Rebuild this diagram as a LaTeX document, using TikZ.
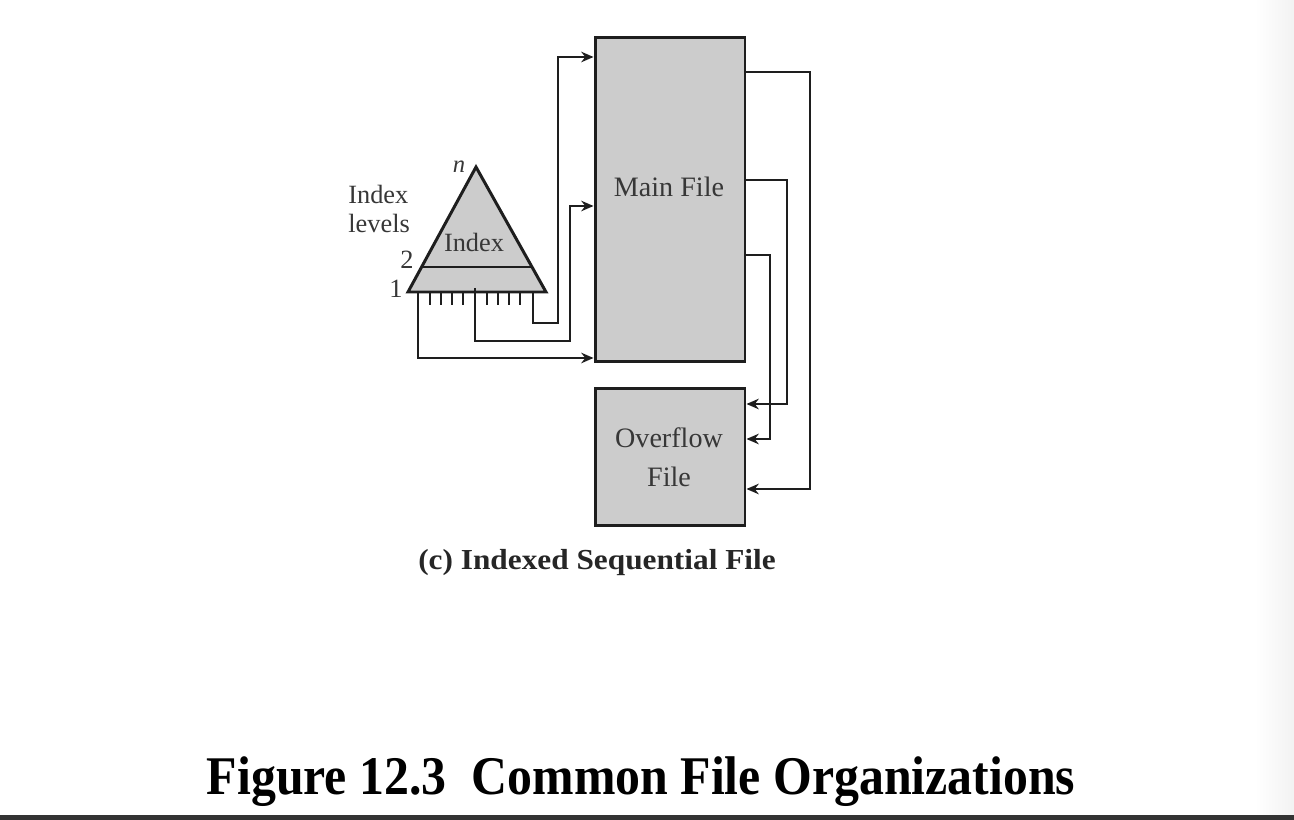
\documentclass[tikz,border=0pt]{standalone}
\usepackage{fontspec}
\setmainfont{Liberation Serif}
\usetikzlibrary{arrows.meta}
\definecolor{boxfill}{RGB}{204,204,204}
\definecolor{ink}{RGB}{30,30,30}
\definecolor{txt}{RGB}{55,55,55}
\begin{document}
\begin{tikzpicture}[x=0.02cm,y=-0.02cm,
  line/.style={draw=ink,line width=1.7pt},
  conn/.style={draw=ink,line width=1.6pt,-{Stealth[length=7pt,width=6pt]}},
  filebox/.style={draw=ink,line width=1.7pt,fill=boxfill,rectangle,inner sep=0pt},
  lbl/.style={text=txt,font=\fontsize{15}{17}\selectfont,inner sep=0pt},
  tick/.style={draw=ink,line width=1.1pt}]
\useasboundingbox (0,0) rectangle (1294,820);
\shade[left color=white,right color=black!5] (1255,0) rectangle (1294,815);
\fill[black!80] (0,815) rectangle (1294,820);

% file boxes
\node[filebox,minimum width=3cm,minimum height=6.5cm] (main) at (670,199.5) {};
\node[filebox,minimum width=3cm,minimum height=2.76cm] (over) at (670,457) {};
\node[lbl,font=\fontsize{16}{18}\selectfont] (mainlbl) at (669,187) {Main File};
\node[lbl,align=center,font=\fontsize{16}{18}\selectfont] (overlbl) at (669,457) {Overflow\\[4pt]File};

% index triangle
\coordinate (apex) at (476,167);
\coordinate (bl) at (408,292);
\coordinate (br) at (546,292);
\fill[boxfill] (apex) -- (bl) -- (br) -- cycle;
\draw[line,line join=miter] (apex) -- (bl) -- (br) -- cycle;
\draw[line] (421.5,267) -- (532.5,267);
\node[lbl] (idx) at (474,242) {Index};
\node[lbl,font=\itshape\fontsize{14}{16}\selectfont] (nlbl) at (459,167) {n};
\node[lbl,align=left,anchor=west] (levels) at (348,209) {Index\\[0pt]levels};
\node[lbl,anchor=east] (two) at (414,260) {2};
\node[lbl,anchor=east] (one) at (403,289) {1};

% ticks
\foreach \tx in {430,441,452,463,487,498,509,520}
  \draw[tick] (\tx,292) -- (\tx,305);

% index to main file
\coordinate (s1) at (418,292);
\coordinate (s2) at (475,288);
\coordinate (s3) at (533,292);
\draw[conn] (s1) -- (418,358) -- (main.west |- 0,358);
\draw[conn] (s2) -- (475,341) -- (570,341) -- (570,206) -- (main.west |- 0,206);
\draw[conn] (s3) -- (533,323) -- (558,323) -- (558,57) -- (main.west |- 0,57);

% main file to overflow
\draw[conn] (main.east |- 0,72) -- (810,72) -- (810,489) -- (over.east |- 0,489);
\draw[conn] (main.east |- 0,180) -- (787,180) -- (787,404) -- (over.east |- 0,404);
\draw[conn] (main.east |- 0,255) -- (770,255) -- (770,439) -- (over.east |- 0,439);

% captions
\node[font=\bfseries\fontsize{16.5}{18}\selectfont,inner sep=0pt,text=black!85,xscale=1.08] (sub) at (597,563) {(c) Indexed Sequential File};
\node[font=\bfseries\fontsize{31}{34}\selectfont,inner sep=0pt,xscale=0.915] (title) at (641,782) {Figure 12.3\ \ Common File Organizations};
\end{tikzpicture}
\end{document}
